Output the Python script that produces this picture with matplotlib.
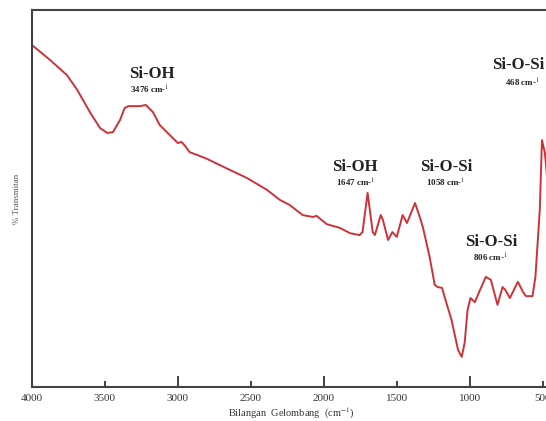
import matplotlib
matplotlib.use("Agg")
import matplotlib.pyplot as plt
from matplotlib.ticker import MultipleLocator

plt.rcParams['font.family'] = ['Liberation Serif', 'DejaVu Serif']
plt.rcParams['mathtext.fontset'] = 'stix'

wavenumber = [4000, 3875, 3760, 3690, 3600, 3534, 3485, 3445, 3397, 3365, 3340,
              3260, 3220, 3171, 3125, 3055, 3000, 2975, 2950, 2920, 2865, 2800,
              2645, 2525, 2390, 2300, 2235, 2145, 2075, 2050, 1980, 1890, 1820,
              1755, 1735, 1700, 1665, 1650, 1610, 1595, 1560, 1530, 1500, 1460,
              1430, 1375, 1340, 1320, 1275, 1240, 1220, 1190, 1160, 1125, 1080,
              1055, 1035, 1015, 995, 965, 930, 890, 855, 810, 775, 755, 725, 670,
              635, 615, 570, 550, 520, 505, 485, 470, 450]
transmittance = [90.7, 86.7, 82.7, 78.8, 72.7, 68.7, 67.4, 67.6, 70.8, 74.0, 74.5,
                 74.5, 74.8, 72.9, 69.5, 66.8, 64.7, 65.0, 63.9, 62.3, 61.5, 60.5,
                 57.6, 55.4, 52.3, 49.6, 48.3, 45.6, 45.1, 45.4, 43.2, 42.2, 40.8,
                 40.3, 41.1, 51.5, 41.1, 40.3, 45.6, 44.3, 39.0, 41.1, 39.8, 45.6,
                 43.5, 48.8, 44.8, 42.2, 34.5, 27.1, 26.5, 26.3, 22.3, 17.8, 9.8,
                 8.0, 11.7, 20.4, 23.6, 22.5, 25.7, 29.2, 28.4, 21.8, 26.5, 25.7,
                 23.6, 27.9, 25.2, 24.1, 24.1, 29.2, 47.0, 65.5, 62.1, 55.7, 52.3]

peak_groups = ["Si-OH", "Si-OH", "Si-O-Si", "Si-O-Si", "Si-O-Si"]
peak_labels = ["3476", "1647", "1058", "468", "806"]
group_pos = [(3178, 83.0), (1788, 58.4), (1164, 58.4), (671, 85.4), (856, 38.5)]
label_pos = [(3192, 78.8), (1781, 54.1), (1164, 54.1), (637, 80.6), (856, 34.2)]

fig = plt.figure(figsize=(5.46, 4.21), dpi=100)
ax = fig.add_axes([32/546, 34/421, 518/546, 377/421])

ax.plot(wavenumber, transmittance, color='#cc3338', lw=1.4,
        solid_joinstyle='round')
ax.set_xlim(4000, 450)
ax.set_ylim(0, 100)
ax.set_yticks([])

ax.xaxis.set_major_locator(MultipleLocator(1000))
ax.tick_params(axis='x', which='major', direction='in', length=8, width=1.3,
               color='#333333', labelsize=8, labelcolor='#333333', pad=5)
ax.set_xticks([3500, 2500, 1500, 500], labels=['3500', '2500', '1500', '500'], minor=True)
ax.tick_params(axis='x', which='minor', direction='in', length=4, width=1.3,
               color='#333333', labelsize=8, labelcolor='#333333', pad=5)

for s in ax.spines.values():
    s.set_color('#444444')
    s.set_linewidth(1.5)

ax.set_xlabel('Bilangan  Gelombang  (cm$^{-1}$)', fontsize=7.5, color='#333333', labelpad=2)
ax.set_ylabel('% Transmitan', fontsize=6.5, color='#555555', labelpad=8)

for g, l, gp, lp in zip(peak_groups, peak_labels, group_pos, label_pos):
    ax.text(gp[0], gp[1], g, fontsize=12, fontweight='bold', color='#222222',
            ha='center', va='center')
    ax.text(lp[0], lp[1], l + ' cm-$^{1}$', fontsize=6.5, fontweight='bold',
            color='#222222', ha='center', va='center')

fig.savefig('out.png', dpi=100)
